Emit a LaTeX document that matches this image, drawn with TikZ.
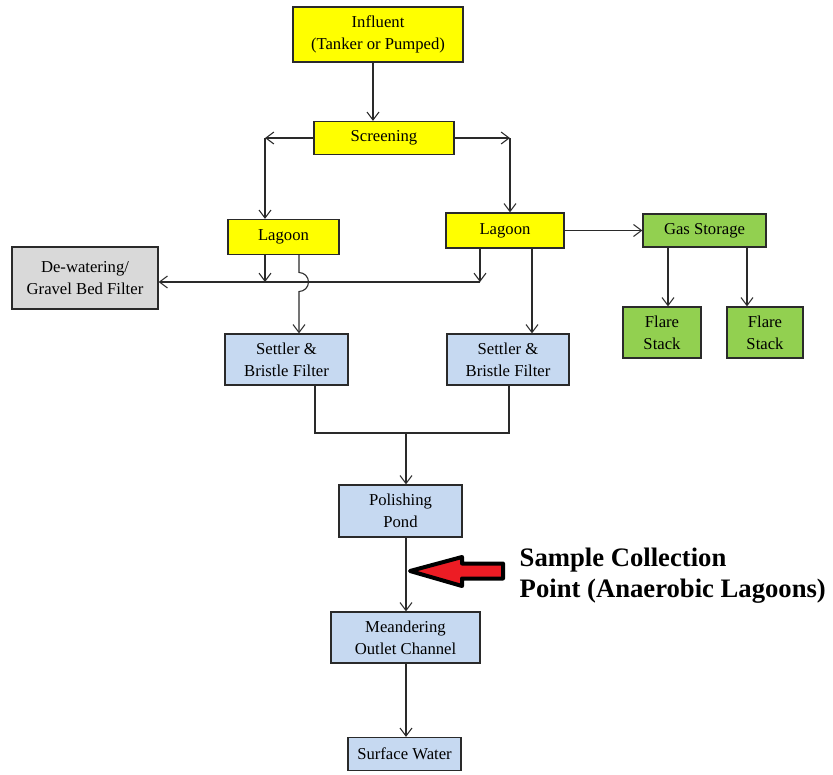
\documentclass[tikz,border=0pt]{standalone}
\usepackage{fontspec}
\setmainfont{Liberation Serif}
\usetikzlibrary{arrows.meta}
\definecolor{lagyellow}{HTML}{FFFF00}
\definecolor{flowblue}{HTML}{C6D9F1}
\definecolor{gasgreen}{HTML}{92D050}
\definecolor{filtgray}{HTML}{D9D9D9}
\definecolor{edgegray}{HTML}{2A2A2A}
\definecolor{markred}{HTML}{ED1C24}

\begin{document}
\begin{tikzpicture}[x=0.75pt, y=-0.75pt,
    box/.style={rectangle, draw=edgegray, line width=0.9pt, align=center, inner sep=0pt,
      font=\fontsize{12.5}{16.5}\selectfont},
    sz/.style 2 args={minimum width=#1*0.75pt, minimum height=#2*0.75pt},
    yel/.style={box, fill=lagyellow},
    blu/.style={box, fill=flowblue},
    grn/.style={box, fill=gasgreen},
    gry/.style={box, fill=filtgray},
    flow/.style={draw=edgegray, line width=0.8pt},
    arr/.style={flow, -{Straight Barb[length=6pt,width=9pt]}}
    ]
    \useasboundingbox (0,0) rectangle (833,775);

    \node[yel, sz={170}{55}] (infl) at (378,34.5) {Influent\\(Tanker or Pumped)};
    \node[yel, sz={140}{33}] (screen) at (384,138) {Screening};
    \node[yel, sz={111}{35}] (lagL) at (283.5,237) {Lagoon};
    \node[yel, sz={118}{35}] (lagR) at (505,230.5) {Lagoon};
    \node[grn, sz={123}{33}] (gas) at (704.5,230.5) {Gas Storage};
    \node[grn, sz={78}{51}] (flare1) at (662,332.5) {Flare\\Stack};
    \node[grn, sz={76}{51}] (flare2) at (765,332.5) {Flare\\Stack};
    \node[gry, sz={146}{62}] (dewat) at (85,278) {De-watering/\\Gravel Bed Filter};
    \node[blu, sz={123}{51}] (setL) at (286.5,359.5) {Settler \&\\Bristle Filter};
    \node[blu, sz={122}{51}] (setR) at (508,359.5) {Settler \&\\Bristle Filter};
    \node[blu, sz={123}{52}] (polish) at (400.5,511) {Polishing\\Pond};
    \node[blu, sz={149}{51}] (meander) at (405.5,637.5) {Meandering\\Outlet Channel};
    \node[blu, sz={113}{33}] (surface) at (404.5,754) {Surface Water};
    \node[anchor=west, align=left, font=\fontsize{20}{23.5}\selectfont\bfseries] (sample) at (515,576)
      {Sample Collection\\Point (Anaerobic Lagoons)};

    \coordinate (c1) at (373,0);
    \coordinate (kL) at (265,138);
    \coordinate (kR) at (510,138);
    \coordinate (hop) at (299,282);
    \coordinate (busL) at (265,282);
    \coordinate (busR) at (480,282);
    \coordinate (r2) at (532,0);
    \coordinate (g1) at (668,0);
    \coordinate (g2) at (747,0);
    \coordinate (jL) at (315,433);
    \coordinate (jR) at (509,433);
    \coordinate (jM) at (406,433);

    \draw[arr] (infl.south -| c1) -- (screen.north -| c1);
    \draw[arr] (screen.west) -- (kL);
    \draw[arr] (kL) -- (kL |- lagL.north);
    \draw[arr] (screen.east) -- (kR);
    \draw[arr] (kR) -- (kR |- lagR.north);
    \draw[arr] (lagR.east) -- (gas.west);
    \draw[arr] (gas.south -| g1) -- (flare1.north -| g1);
    \draw[arr] (gas.south -| g2) -- (flare2.north -| g2);

    \draw[arr] (busR) -- (dewat.east |- busR);
    \draw[arr] (busL |- lagL.south) -- (busL);
    \draw[arr] (busR |- lagR.south) -- (busR);
    \draw[arr] (hop |- lagL.south) -- ([yshift=7.125pt]hop) arc (90:-90:7.125pt) -- (hop |- setL.north);
    \draw[arr] (r2 |- lagR.south) -- (r2 |- setR.north);

    \draw[flow] (jL |- setL.south) -- (jL) -- (jR) -- (jR |- setR.south);
    \draw[arr] (jM) -- (jM |- polish.north);
    \draw[arr] (polish.south -| jM) -- (meander.north -| jM);
    \draw[arr] (meander.south -| jM) -- (surface.north -| jM);

    \draw[fill=markred, draw=black, line width=3pt, line join=round]
      (410,571) -- (462,557) -- (462,563.5) -- (503,563.5) -- (503,578.5)
      -- (462,578.5) -- (462,586) -- cycle;
\end{tikzpicture}
\end{document}
